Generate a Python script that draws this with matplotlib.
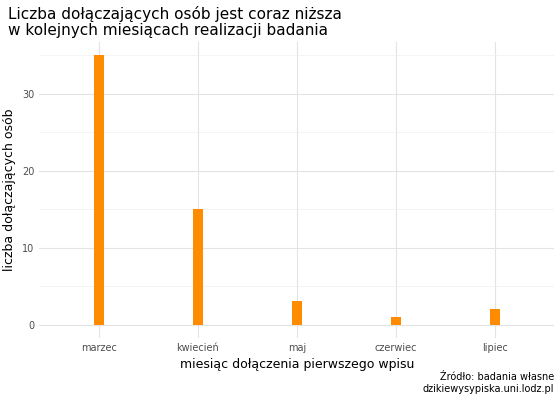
import matplotlib.pyplot as plt

months = ["marzec", "kwiecień", "maj", "czerwiec", "lipiec"]
counts = [35, 15, 3, 1, 2]

fig, ax = plt.subplots(figsize=(5.6, 4), dpi=100)
fig.subplots_adjust(left=0.07, right=0.99, top=0.895, bottom=0.155)

x = list(range(len(months)))
ax.bar(x, counts, width=0.1, color="#FF8C00", zorder=3)

ax.set_xlim(-0.6, len(months) - 0.4)
ax.set_ylim(-1.75, 36.75)
ax.set_xticks(x)
ax.set_xticklabels(months)
ax.set_yticks([0, 10, 20, 30])
ax.set_yticks([5, 15, 25, 35], minor=True)
ax.grid(True, which="major", color="#e3e3e3", linewidth=0.8, zorder=0)
ax.grid(True, which="minor", axis="y", color="#f0f0f0", linewidth=0.5, zorder=0)
ax.tick_params(which="both", length=0, labelsize=7, colors="#4d4d4d")
for s in ax.spines.values():
    s.set_visible(False)

ax.set_xlabel("miesiąc dołączenia pierwszego wpisu", fontsize=9)
ax.set_ylabel("liczba dołączających osób", fontsize=9)
fig.text(0.015, 0.985, "Liczba dołączających osób jest coraz niższa\nw kolejnych miesiącach realizacji badania",
         fontsize=11, ha="left", va="top", linespacing=1.1)
fig.text(0.99, 0.015, "Źródło: badania własne\ndzikiewysypiska.uni.lodz.pl",
         fontsize=7, ha="right", va="bottom")

fig.savefig("out.png")
